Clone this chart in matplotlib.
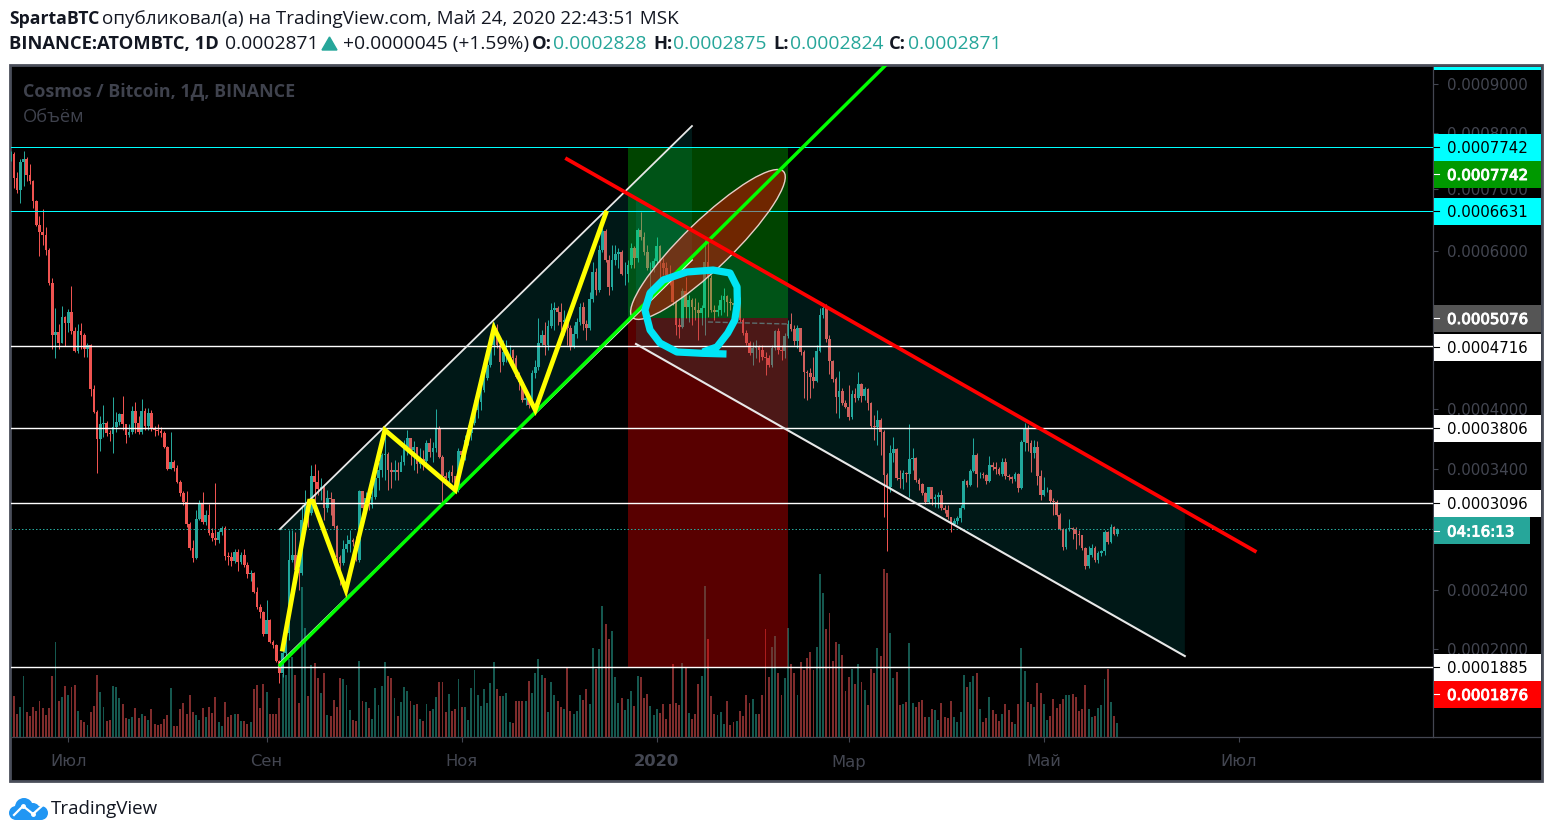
import matplotlib
matplotlib.use('Agg')
import matplotlib.pyplot as plt
import matplotlib.patheffects as pe
from matplotlib.patches import Rectangle, Ellipse, Circle
from matplotlib.transforms import IdentityTransform
import numpy as np
import pandas as pd

# prices below are in units of 0.0000001
first_open = 7503
closes = [7613,7183,6976,7467,7521,7236,7131,6792,6403,6293,6247,6018,5542,4855,4893,4756,5085,5007,5150,4905,4659,4905,4855,4683,4732,
4218,3969,3690,3843,3853,3751,3741,3812,3863,3948,3843,3731,3761,3979,3853,3761,3979,3822,3958,3802,3781,3771,3751,3611,3400,
3466,3409,3280,3180,3101,2913,2718,2640,2955,3083,2929,2988,2839,2798,2782,2847,2880,2655,2648,2616,2686,2609,2663,2585,2517,
2525,2385,2278,2243,2095,2189,2042,2023,1922,1848,1972,2101,2624,2663,2547,2525,2946,3074,3005,3335,3280,3216,3234,3048,3136,
3127,2896,2648,2601,2710,2750,2782,2766,2624,3198,3048,3136,3074,3145,3316,3390,3534,3543,3390,3372,3390,3372,3466,3611,3700,
3582,3611,3447,3495,3475,3651,3563,3602,3791,3514,3335,3316,3372,3335,3207,3572,3534,3680,3751,3853,3990,4076,4207,4342,4492,
4732,4943,4732,4528,4647,4671,4671,4575,4353,4297,4097,4119,4043,4399,4469,4756,4855,4732,4969,5176,5203,5150,5020,5045,4943,
4708,4868,5020,5216,4994,4943,5323,5697,5445,6018,6309,5870,5487,5870,5959,5988,5669,5669,5797,6048,5900,6324,6216,5988,5754,
5754,5855,6079,5826,5754,5654,5584,5282,4982,4956,5431,5216,5309,5216,5176,5137,5203,5841,5612,5176,5150,5176,5309,5363,5282,
5269,5242,5309,5045,4880,4756,4635,4695,4708,4671,4587,4575,4492,4695,4905,4671,4659,4843,4994,4931,4781,4943,4647,4411,4399,
4353,4308,4659,5110,5203,4805,4539,4330,4130,4196,4065,4022,3916,4163,4119,4274,4141,4218,4065,3822,3812,3884,3761,3344,3234,
3553,3592,3316,3307,3362,3353,3495,3505,3298,3262,3180,3101,3234,3127,3145,3162,3048,3031,2971,2913,2938,2963,3048,3289,3252,
3381,3534,3353,3353,3344,3289,3437,3418,3400,3353,3466,3335,3325,3307,3353,3225,3660,3802,3651,3553,3611,3335,3162,3207,3207,
3109,3101,2988,2871,2726,2871,2880,2871,2830,2822,2718,2578,2663,2718,2624,2678,2694,2847,2766,2888,2830,2871]
highs = [7668,7650,7289,7521,7668,7558,7431,7148,6808,6546,6659,6371,6048,5612,5203,4994,5229,5098,5190,5501,4956,4994,5007,4880,4756,
4744,4263,3990,3927,4043,3874,3781,4130,3969,3958,4141,3843,3843,4033,4076,3927,4108,4011,4011,3990,3822,3843,3812,3771,3621,
3761,3485,3437,3298,3198,3198,2929,2782,3031,3118,3189,3031,3083,2880,3271,2863,2896,2896,2686,2686,2710,2710,2686,2710,2609,
2547,2532,2421,2299,2250,2327,2196,2055,2029,1928,1991,2209,2863,2863,2847,2562,3074,3207,3118,3437,3447,3390,3316,3262,3207,
3189,3083,2904,2663,2782,2822,2863,2798,2814,3207,3198,3189,3162,3207,3325,3466,3553,3802,3563,3466,3485,3466,3534,3680,3781,
3680,3670,3611,3602,3582,3680,3700,3660,4001,3822,3534,3372,3390,3437,3335,3602,3582,3731,3832,3937,4097,4152,4342,4434,4551,
4855,5020,4994,4793,4793,4793,4732,4683,4611,4411,4319,4207,4152,4434,4551,5071,4918,5020,5045,5269,5282,5229,5269,5176,5110,
4982,4982,5071,5269,5282,5045,5418,5841,5754,6094,6356,6340,5944,6094,6094,6048,6018,5841,5870,6124,6079,6356,6611,6293,6094,
5841,5900,6216,6094,5900,5841,5797,5612,5309,5071,5473,5626,5377,5336,5336,5282,5242,6170,6140,5654,5242,5242,5377,5473,5377,
5336,5350,5445,5350,5071,4918,4781,4768,4793,4732,4732,4647,4611,4732,4918,4943,4732,4880,5045,5137,4982,4982,4943,4671,4434,
4457,4587,4732,5203,5269,5256,4855,4551,4353,4422,4229,4097,4263,4207,4229,4411,4285,4240,4229,4076,3937,3990,3905,3781,3362,
3631,3710,3602,3390,3390,3372,3843,3602,3514,3316,3271,3189,3234,3234,3171,3189,3207,3074,3074,2971,2963,2979,3074,3307,3298,
3400,3700,3553,3372,3372,3353,3524,3466,3466,3418,3505,3505,3353,3335,3372,3362,3680,3853,3832,3680,3680,3670,3390,3325,3234,
3216,3136,3118,3005,2880,2880,2955,2888,2888,2863,2822,2726,2734,2750,2734,2694,2702,2863,2855,2913,2896,2880]
lows = [7485,7010,6926,6758,7045,7131,7079,6676,6387,5929,6094,5944,5514,4683,4575,4683,4756,4720,4893,4868,4647,4635,4683,4587,4587,
4141,3958,3362,3572,3710,3721,3670,3553,3761,3832,3781,3651,3710,3741,3751,3741,3741,3781,3781,3771,3721,3731,3710,3602,3390,
3400,3381,3271,3153,3074,2888,2702,2609,2632,2946,2913,2904,2822,2774,2742,2758,2822,2624,2585,2578,2601,2540,2593,2570,2487,
2465,2378,2264,2202,2081,2101,2036,2004,1916,1788,1824,1941,2055,2609,2450,2399,2510,2888,2888,2988,3074,3162,3118,2946,3014,
2988,2880,2609,2435,2585,2686,2686,2734,2616,2609,2946,3031,3031,3048,3127,3207,3325,3298,3207,3225,3298,3298,3390,3437,3534,
3437,3390,3362,3409,3390,3456,3514,3466,3563,3505,3092,3252,3280,3280,3189,3189,3437,3485,3631,3680,3832,3905,3990,4185,4319,
4469,4611,4695,4411,4492,4528,4492,4492,4342,4207,4076,4043,4011,4022,4342,4434,4732,4611,4671,4943,4918,4982,4918,4855,4732,
4671,4695,4818,4982,4918,4793,4918,5282,5377,5418,5988,5841,5377,5445,5797,5754,5654,5514,5556,5754,5754,5841,6170,5944,5725,
5445,5697,5812,5514,5654,5584,5514,5242,4855,4818,4943,5071,5020,4982,5045,4793,4982,4855,5085,5150,5045,5098,5110,5150,5098,
5176,5071,5045,5020,4855,4732,4611,4492,4575,4528,4551,4376,4469,4469,4671,4623,4551,4575,4818,4905,4732,4695,4611,4119,4097,
4119,4229,4297,4647,5071,4768,4388,4297,3958,3905,4043,4011,3884,3895,4076,4097,4076,4097,3990,3802,3680,3631,3534,2971,2694,
3189,3466,3298,3225,3216,3280,3145,3390,3280,3207,3162,3083,3092,3074,3057,3048,3031,3005,2955,2847,2904,2913,2929,3040,3234,
3243,3372,3234,3316,3316,3262,3280,3390,3353,3344,3335,3307,3298,3271,3289,3189,3216,3572,3572,3372,3505,3252,3118,3153,3189,
3092,2988,2979,2863,2702,2710,2855,2790,2710,2742,2702,2555,2562,2648,2609,2601,2655,2663,2750,2758,2822,2814]
# volume has no scale on the chart, relative bar heights
volumes = [20,41,23,30,61,25,21,30,26,36,29,22,29,61,95,36,40,51,42,50,52,26,17,15,12,
25,31,62,45,30,16,17,51,50,39,33,19,18,20,29,19,23,21,17,28,13,12,13,18,22,
49,11,11,28,34,23,42,25,22,17,29,20,30,24,40,15,11,35,20,22,23,23,16,16,13,
15,48,52,29,53,45,23,23,23,39,63,62,78,80,62,34,150,109,41,72,74,59,44,64,22,
21,37,30,59,58,52,27,17,16,76,36,35,29,18,49,32,51,75,61,59,39,21,35,50,46,
36,32,33,18,16,33,26,28,40,55,55,25,43,26,28,58,30,30,17,49,67,42,31,48,34,
54,75,48,41,41,44,15,14,36,36,36,36,56,44,64,78,62,59,25,55,42,36,30,28,69,
26,23,26,42,37,48,33,89,68,88,131,113,98,106,60,34,39,27,38,46,31,61,60,39,43,
31,22,28,24,33,18,33,73,34,32,74,70,24,18,23,53,61,151,98,41,23,22,25,13,36,
12,15,16,26,21,42,34,38,23,23,42,108,60,90,101,64,42,59,109,73,64,42,75,67,79,
85,67,90,163,144,108,124,76,95,93,82,46,60,68,53,73,55,47,32,68,64,89,81,168,164,
104,59,65,32,33,35,94,34,30,35,37,20,20,28,27,17,34,20,19,36,20,15,25,62,50,
55,61,64,28,15,19,40,27,23,16,23,33,27,15,13,33,89,66,35,33,30,54,44,33,17,
21,38,29,33,38,42,42,43,40,26,28,52,28,20,21,29,32,58,68,35,21,14]

start_date = '2019-06-13'
month_dates = ['2019-07-01', '2019-09-01', '2019-11-01', '2020-01-01', '2020-03-01', '2020-05-01', '2020-07-01']
month_labels = ['Июл', 'Сен', 'Ноя', '2020', 'Мар', 'Май', 'Июл']
price_ticks = [0.0009, 0.0008, 0.0007, 0.0006, 0.0004, 0.00034, 0.00028, 0.00024, 0.0002]

last_price = 0.0002871
cyan_levels = [0.0007742, 0.0006631]
white_levels = [0.0004716, 0.0003806, 0.0003096, 0.0001885]
pos_left, pos_right = 193, 243.1
pos_top, pos_entry, pos_bottom = 0.0007742, 0.0005076, 0.0001885

# drawings: bar index and price (in 0.0000001)
zig_i = [85, 93.4, 94.5, 104.8, 117, 139, 151.1, 164, 186.1]
zig_p = [1997, 3109, 3109, 2399, 3781, 3207, 4943, 3990, 6595]
green_i = [84.2, 273.3]
green_p = [1897, 9390]
up_top_i = [84.2, 213]
up_top_p = [2871, 8142]
up_low_p = [1910, 5870]
red_i = [173.9, 389]
red_p = [7521, 2694]
down_i = [195.5, 367.1]
down_top_p = [6825, 3022]
down_low_p = [4744, 1953]
blob_i = [223.8, 216.4, 208.3, 203, 199.9, 198.3, 199.9, 204, 211.4, 219.6, 224.9, 227.1, 227.2, 226.4, 224.2, 220.8, 216.4]
blob_p = [4623, 4631, 4647, 4756, 4918, 5176, 5404, 5584, 5697, 5725, 5683, 5487, 5269, 5045, 4880, 4708, 4647]
entry_i = [218, 243]
entry_p = [5020, 4994]
ell_i, ell_p = 218, 6102

axis_texts = ['0.0007742', '0.0007742', '0.0006631', '0.0005076', '0.0004716', '0.0003806', '0.0003096', '04:16:13', '0.0001885', '0.0001876']
axis_colors = ['#00ffff', '#009900', '#00ffff', '#555555', '#ffffff', '#ffffff', '#ffffff', '#26a69a', '#ffffff', '#ff0000']
axis_ink = ['black', 'white', 'black', 'white', 'black', 'black', 'black', 'white', 'black', 'white']
axis_bold = [False, True, False, True, False, False, False, True, False, True]
axis_y = [147, 174, 211, 318, 347, 428, 503, 530.5, 667, 694]

W, H = 1552, 836
UP = '#26a69a'
DOWN = '#ef5350'
GREY = '#434651'
plt.rcParams['font.family'] = ['DejaVu Sans']

fig = plt.figure(figsize=(W / 100, H / 100), dpi=100, facecolor='white')

# page axes in pixels for the frame and header
page = fig.add_axes([0, 0, 1, 1], zorder=0)
page.set_xlim(0, W)
page.set_ylim(H, 0)
page.axis('off')
page.add_patch(Rectangle((10, 65), 1532, 716, facecolor='black', edgecolor='#4a4e5a', linewidth=2))

HEAD = 'Open Sans'
page.text(9, 19, 'SpartaBTC', fontsize=12.7, fontweight='bold', family=HEAD, color='#131722', va='center')
page.text(102, 19, 'опубликовал(а) на TradingView.com, Май 24, 2020 22:43:51 MSK', fontsize=13.6, family=HEAD, color='#131722', va='center')
parts = [(9, 'BINANCE:ATOMBTC, 1D', 'bold', '#131722'), (225, '0.0002871', 'normal', '#131722'),
         (343, '+0.0000045 (+1.59%)', 'normal', '#131722'), (532, 'O:', 'bold', '#131722'),
         (553, '0.0002828', 'normal', UP), (653, 'H:', 'bold', '#131722'), (673, '0.0002875', 'normal', UP),
         (773, 'L:', 'bold', '#131722'), (790, '0.0002824', 'normal', UP), (889, 'C:', 'bold', '#131722'),
         (908, '0.0002871', 'normal', UP)]
for px, s, w, c in parts:
    page.text(px, 44, s, fontsize=13.2 if w == 'bold' else 13.9, fontweight=w, family=HEAD, color=c, va='center')
page.fill([322, 329.5, 337], [50, 37, 50], color=UP)

# logo
for cx, cy, r in [(16, 813, 7), (24, 807, 9), (33, 810, 7), (41, 813, 7)]:
    page.add_patch(Circle((cx, cy), r, color='#2196f3', lw=0))
page.add_patch(Rectangle((16, 812), 25, 8, color='#2196f3', lw=0))
page.plot([14, 23, 33, 43], [815, 806, 814, 805], color='white', lw=1.6)
page.plot([23, 33], [806, 814], 'o', color='white', ms=2.5)
page.text(51, 809, 'TradingView', fontsize=13.5, family=HEAD, color='#131722', va='center')

pos = [11 / W, 1 - 737 / H, 1422 / W, 671 / H]

# volume pane, its own linear scale
idx = np.arange(len(closes))
opens = np.array([first_open] + closes[:-1]) * 1e-7
close_arr = np.array(closes) * 1e-7
high_arr = np.array(highs) * 1e-7
low_arr = np.array(lows) * 1e-7
up = close_arr >= opens

vol = fig.add_axes(pos, zorder=1)
vol.set_facecolor('none')
vol.bar(idx, volumes, width=0.6, color=np.where(up, '#15584f', '#7f2c2c'), linewidth=0, antialiased=False)
vol.set_xlim(0.09, 444.7)
vol.set_ylim(0, 671)
vol.axis('off')

ax = fig.add_axes(pos, zorder=2)
ax.set_facecolor('none')
ax.set_yscale('function', functions=(lambda p: np.log(p + 1e-4), lambda v: np.exp(v) - 1e-4))
ax.set_xlim(0.09, 444.7)
ax.set_ylim(0.0001485, 0.000939)

# candles
ax.vlines(idx, low_arr, high_arr, colors=np.where(up, UP, DOWN), linewidth=0.72, zorder=2, snap=True)
ax.bar(idx, np.abs(close_arr - opens), bottom=np.minimum(close_arr, opens), width=0.84,
       color=np.where(up, UP, DOWN), linewidth=0, zorder=2, antialiased=False)

# long position tool
ax.fill([pos_left, pos_right, pos_right, pos_left], [pos_entry, pos_entry, pos_top, pos_top],
        color=(0, 1, 0), alpha=0.27, lw=0, zorder=3)
ax.fill([pos_left, pos_right, pos_right, pos_left], [pos_bottom, pos_bottom, pos_entry, pos_entry],
        color=(1, 0, 0), alpha=0.35, lw=0, zorder=3)

# channels
teal_fill = (0, 0.74, 0.72)
up_top = np.array(up_top_p) * 1e-7
up_low = np.array(up_low_p) * 1e-7
down_top = np.array(down_top_p) * 1e-7
down_low = np.array(down_low_p) * 1e-7
ax.fill(up_top_i + up_top_i[::-1], list(up_low) + list(up_top[::-1]), color=teal_fill, alpha=0.13, lw=0, zorder=3)
ax.fill(down_i + down_i[::-1], list(down_low) + list(down_top[::-1]), color=teal_fill, alpha=0.13, lw=0, zorder=3)

for lv in cyan_levels:
    ax.axhline(lv, color='#00ffff', lw=0.72, zorder=4)
for lv in white_levels:
    ax.axhline(lv, color='white', lw=1.0, zorder=4)
ax.axhline(last_price, color=UP, lw=0.72, ls=(0, (1.5, 2)), zorder=4)

# ellipse is set in pixels around its centre
fig.canvas.draw()
cx, cy = ax.transData.transform((ell_i, ell_p * 1e-7))
ax.add_patch(Ellipse((cx, cy), 210, 48, angle=44, transform=IdentityTransform(), facecolor=(1, 0, 0, 0.44),
                     edgecolor='#e8cfc8', linewidth=1, zorder=5))

ax.plot(entry_i, np.array(entry_p) * 1e-7, color='#5c6e6e', lw=1, ls='--', zorder=5)
ax.plot(up_top_i, up_top, color='#e8e8e8', lw=1.3, zorder=5)
ax.plot(up_top_i, up_low, color='#e8e8e8', lw=1.3, zorder=5)
ax.plot(down_i, down_low, color='#e8e8e8', lw=1.5, zorder=5)
ax.plot(green_i, np.array(green_p) * 1e-7, color='#00ff00', lw=2.5, zorder=6)
ax.plot(red_i, np.array(red_p) * 1e-7, color='#ff0000', lw=2.7, zorder=6)
ax.plot(zig_i, np.array(zig_p) * 1e-7, color='#ffff00', lw=3.4, solid_joinstyle='miter', zorder=7)
ax.plot(blob_i, np.array(blob_p) * 1e-7, color='#00e5f5', lw=5.2, solid_joinstyle='round', solid_capstyle='butt', zorder=7)

# axes
start = pd.Timestamp(start_date)
ax.set_xticks([(pd.Timestamp(d) - start).days for d in month_dates], labels=month_labels)
ax.set_yticks(price_ticks, labels=['%.7f' % p for p in price_ticks])
ax.minorticks_off()
ax.yaxis.tick_right()
ax.tick_params(axis='y', length=3.6, width=0.8, color=GREY, labelcolor=GREY, labelsize=10.8, pad=6.5)
ax.tick_params(axis='x', length=3.6, width=0.8, color=GREY, labelcolor=GREY, labelsize=11.8, pad=9)
ax.get_xticklabels()[3].set_fontweight('bold')
for side in ['top', 'left']:
    ax.spines[side].set_visible(False)
for side in ['right', 'bottom']:
    ax.spines[side].set_color(GREY)
    ax.spines[side].set_linewidth(0.9)

# price labels on top of the axis
over = fig.add_axes([0, 0, 1, 1], zorder=3)
over.set_xlim(0, W)
over.set_ylim(H, 0)
over.axis('off')
over.plot([1433, 1541], [737, 737], color=GREY, lw=0.9)
over.add_patch(Rectangle((1433.5, 67), 107.5, 3, color='#00ffff', lw=0))
for s, c, ink, b, yy in zip(axis_texts, axis_colors, axis_ink, axis_bold, axis_y):
    bw = 96 if ':' in s else 107.5
    over.add_patch(Rectangle((1433.5, yy - 13.5), bw, 27, color=c, lw=0))
    over.plot([1433.5, 1438.5], [yy, yy], color=ink, lw=0.8)
    t = over.text(1447, yy, s, color=ink, fontsize=10.8, va='center_baseline')
    if b:
        t.set_path_effects([pe.withStroke(linewidth=0.7, foreground=ink)])
over.text(23, 91, 'Cosmos / Bitcoin, 1Д, BINANCE', color='#3f424d', fontsize=12.85, fontweight='bold', family=HEAD, va='center')
over.text(23, 117, 'Объём', color='#3f424d', fontsize=13.2, family=HEAD, va='center')

fig.savefig('out.png', dpi=100)
